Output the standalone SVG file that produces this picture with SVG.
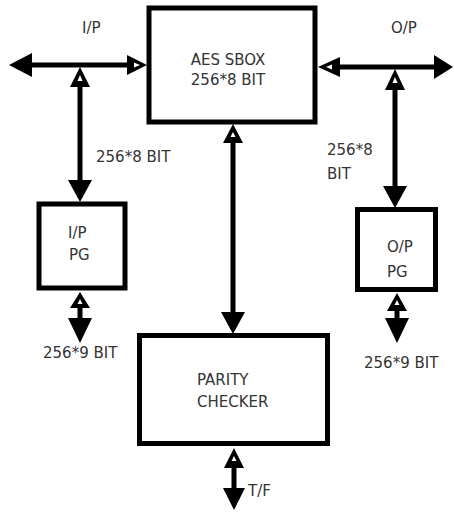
<svg xmlns="http://www.w3.org/2000/svg" width="454" height="512" viewBox="0 0 454 512">
<style>
.box{fill:#fff;stroke:#000;stroke-width:5}
.ln{stroke:#000;stroke-width:5;fill:none}
.ah{fill:#000}
.hole{fill:#fff}
text{font-family:"DejaVu Sans","Liberation Sans",sans-serif;fill:#333;font-size:15px}
</style>
<rect width="454" height="512" fill="#fff"/>
<g id="connectors">
  <!-- I/P horizontal -->
  <line class="ln" x1="20" y1="65" x2="135" y2="65"/>
  <polygon class="ah" points="9,65 32,53 32,77"/>
  <polygon class="ah" points="147,65 127,55 127,75"/>
  <polygon class="hole" points="140,65 134,62.5 134,67.5"/>
  <!-- I/P vertical to I/P PG -->
  <line class="ln" x1="80" y1="80" x2="80" y2="190"/>
  <polygon class="ah" points="80,67 70,87 90,87"/>
  <polygon class="hole" points="80,75 77.5,81 82.5,81"/>
  <polygon class="ah" points="80,202 68,180 92,180"/>
  <!-- I/P PG bottom -->
  <line class="ln" x1="80" y1="300" x2="80" y2="330"/>
  <polygon class="ah" points="80,292 70,308 90,308"/>
  <polygon class="hole" points="80,299 77.5,304 82.5,304"/>
  <polygon class="ah" points="80,343 68,318 92,318"/>
  <!-- O/P horizontal -->
  <line class="ln" x1="330" y1="67" x2="440" y2="67"/>
  <polygon class="ah" points="318,67 340,57 340,77"/>
  <polygon class="hole" points="326,67 332,64.5 332,69.5"/>
  <polygon class="ah" points="453,67 434,55 434,79"/>
  <!-- O/P vertical to O/P PG -->
  <line class="ln" x1="395" y1="80" x2="395" y2="195"/>
  <polygon class="ah" points="395,69 385,90 405,90"/>
  <polygon class="hole" points="395,77 392.5,83 397.5,83"/>
  <polygon class="ah" points="395,208 383,186 407,186"/>
  <!-- O/P PG bottom -->
  <line class="ln" x1="397" y1="300" x2="397" y2="330"/>
  <polygon class="ah" points="397,293 387,311 407,311"/>
  <polygon class="hole" points="397,300 394.5,305 399.5,305"/>
  <polygon class="ah" points="397,343 385,318 409,318"/>
  <!-- AES to Parity -->
  <line class="ln" x1="233" y1="135" x2="233" y2="320"/>
  <polygon class="ah" points="233,124 223,143 243,143"/>
  <polygon class="hole" points="233,132 230.5,137 235.5,137"/>
  <polygon class="ah" points="233,334 221,312 245,312"/>
  <!-- Parity bottom -->
  <line class="ln" x1="234" y1="460" x2="234" y2="495"/>
  <polygon class="ah" points="234,448 224,468 244,468"/>
  <polygon class="hole" points="234,456 231.5,461 236.5,461"/>
  <polygon class="ah" points="234,510 223,488 245,488"/>
  <!-- labels -->
  <text x="82" y="33">I/P</text>
  <text x="391" y="33">O/P</text>
  <text x="96" y="162" font-size="14">256*8 BIT</text>
  <text x="327" y="155">256*8</text>
  <text x="327" y="179">BIT</text>
  <text x="43" y="358" font-size="16">256*9 BIT</text>
  <text x="364" y="368" font-size="16">256*9 BIT</text>
  <text x="248" y="496">T/F</text>
</g>
<g id="aes">
  <rect class="box" x="149" y="8" width="166" height="114"/>
  <text x="228" y="65" text-anchor="middle" font-size="16">AES SBOX</text>
  <text x="228" y="85" text-anchor="middle" font-size="16">256*8 BIT</text>
</g>
<g id="ippg">
  <rect class="box" x="39" y="204" width="86" height="84"/>
  <text x="68" y="238">I/P</text>
  <text x="69" y="260">PG</text>
</g>
<g id="oppg">
  <rect class="box" x="357.5" y="209.5" width="78" height="80"/>
  <text x="387" y="252">O/P</text>
  <text x="387" y="277">PG</text>
</g>
<g id="parity">
  <rect class="box" x="139.5" y="335.5" width="188" height="108"/>
  <text x="197" y="385">PARITY</text>
  <text x="197" y="407">CHECKER</text>
</g>
</svg>
